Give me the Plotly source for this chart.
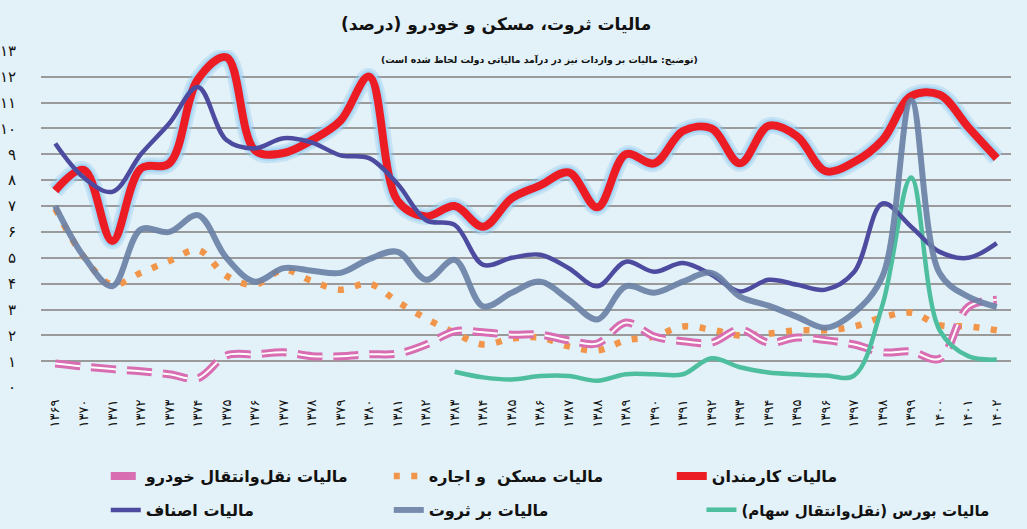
import plotly.graph_objects as go

FA = str.maketrans("0123456789", "۰۱۲۳۴۵۶۷۸۹")
RLM = "\u200f"

def fa(s):
    return RLM + s + RLM

years = list(range(1369, 1403))
year_labels = [str(y).translate(FA) for y in years]
y_ticks = list(range(0, 14))
y_labels = [str(v).translate(FA) for v in y_ticks]

karmandan = [7.6, 8.4, 5.65, 8.45, 8.65, 11.9, 12.75, 9.15, 9.05, 9.55, 10.3, 12.0, 7.2, 6.6,
             7.0, 6.2, 7.3, 7.8, 8.3, 6.95, 9.0, 8.65, 9.9, 10.0, 8.65, 10.1, 9.7, 8.35,
             8.7, 9.55, 11.25, 11.3, 10.05, 8.85]
asnaf = [9.42, 8.1, 7.55, 9.0, 10.2, 11.6, 9.55, 9.23, 9.62, 9.45, 8.96, 8.85, 7.85, 6.45,
         6.27, 4.73, 5.0, 5.12, 4.6, 3.9, 4.85, 4.46, 4.8, 4.35, 3.7, 4.15, 3.96, 3.77,
         4.45, 7.1, 6.2, 5.23, 5.0, 5.57]
servat = [7.0, 5.05, 3.9, 6.1, 6.0, 6.65, 5.0, 4.08, 4.6, 4.5, 4.42, 4.95, 5.23, 4.15,
          4.92, 3.12, 3.65, 4.08, 3.38, 2.62, 3.9, 3.65, 4.08, 4.42, 3.5, 3.15, 2.72, 2.3,
          2.88, 4.3, 11.08, 4.4, 3.5, 3.1]
maskan = [6.9, 5.04, 3.96, 4.42, 4.88, 5.3, 4.3, 3.96, 4.54, 4.1, 3.77, 4.0, 3.3, 2.65,
          2.1, 1.65, 1.88, 1.92, 1.58, 1.42, 1.81, 1.96, 2.35, 2.22, 2.0, 2.07, 2.2, 2.2,
          2.35, 2.7, 2.88, 2.4, 2.35, 2.2]
khodro = [0.92, 0.8, 0.7, 0.62, 0.5, 0.35, 1.23, 1.27, 1.35, 1.2, 1.2, 1.27, 1.3, 1.65,
          2.16, 2.12, 2.03, 2.03, 1.81, 1.69, 2.5, 1.96, 1.78, 1.72, 2.23, 1.72, 1.92, 1.82,
          1.65, 1.35, 1.38, 1.1, 3.1, 3.38]
bourse = [None] * 14 + [0.6, 0.38, 0.3, 0.43, 0.43, 0.25, 0.5, 0.5, 0.5, 1.12, 0.77, 0.57,
                        0.5, 0.45, 0.45, 3.2, 8.1, 2.2, 1.2, 1.07]

names = {
    "khodro": "مالیات نقل\u200cوانتقال خودرو",
    "maskan": "مالیات مسکن  و اجاره",
    "karmandan": "مالیات کارمندان",
    "asnaf": "مالیات اصناف",
    "servat": "مالیات بر ثروت",
    "bourse": "مالیات بورس (نقل\u200cوانتقال سهام)",
}
title_text = "مالیات ثروت، مسکن و خودرو (درصد)"
note_text = "(توضیح: مالیات بر واردات نیز در درآمد مالیاتی دولت لحاظ شده است)"

x = list(range(len(years)))
BG = "#E3F1F8"
FONT = "DejaVu Sans"

fig = go.Figure()

spl = dict(shape="spline", smoothing=1.0)

fig.add_trace(go.Scatter(
    x=x, y=maskan, mode="lines", name=fa(names["maskan"]), legend="legend", legendrank=2,
    line=dict(color="#F0954A", width=6.5, dash="6px,11.5px", **spl)))

fig.add_trace(go.Scatter(
    x=x, y=khodro, mode="lines", name=fa(names["khodro"]), legend="legend", legendrank=1,
    line=dict(color="#D86DB2", width=8, dash="25px,11px", **spl)))
fig.add_trace(go.Scatter(
    x=x, y=khodro, mode="lines", showlegend=False, hoverinfo="skip",
    line=dict(color="#FFFFFF", width=2, dash="25px,11px", **spl)))

fig.add_trace(go.Scatter(
    x=x, y=bourse, mode="lines", name=fa(names["bourse"]), legend="legend3", legendrank=1,
    line=dict(color="#4DBE9E", width=4.5, **spl)))

fig.add_trace(go.Scatter(
    x=x, y=karmandan, mode="lines", showlegend=False, hoverinfo="skip",
    line=dict(color="rgba(140,200,240,0.35)", width=17, **spl)))
fig.add_trace(go.Scatter(
    x=x, y=karmandan, mode="lines", showlegend=False, hoverinfo="skip",
    line=dict(color="rgba(160,212,245,0.85)", width=12, **spl)))
fig.add_trace(go.Scatter(
    x=x, y=karmandan, mode="lines", name=fa(names["karmandan"]), legend="legend", legendrank=3,
    line=dict(color="#EC1C24", width=8, **spl)))

fig.add_trace(go.Scatter(
    x=x, y=asnaf, mode="lines", name=fa(names["asnaf"]), legend="legend2", legendrank=1,
    line=dict(color="#4D4B9F", width=4.5, **spl)))

fig.add_trace(go.Scatter(
    x=x, y=servat, mode="lines", name=fa(names["servat"]), legend="legend2", legendrank=2,
    opacity=0.9,
    line=dict(color="#6A80A6", width=6, **spl)))

legend_common = dict(
    orientation="h", xref="container", yref="container", xanchor="left", yanchor="middle",
    bgcolor="rgba(0,0,0,0)", entrywidthmode="pixels", entrywidth=238,
    traceorder="normal", itemwidth=30,
    font=dict(family=FONT, size=16, color="#111111", weight="bold"),
)
legend_single = dict(legend_common, entrywidth=0,
                     font=dict(family=FONT, size=15, color="#111111", weight="bold"))

PLOT_TOP, PLOT_BOT = 50, 388

def ypaper(py):
    return (PLOT_BOT - py) / (PLOT_BOT - PLOT_TOP)

fig.update_layout(
    width=1027, height=529,
    margin=dict(l=41, r=16, t=50, b=141, autoexpand=False),
    paper_bgcolor=BG, plot_bgcolor="rgba(0,0,0,0)",
    showlegend=True,
    legend=dict(x=0.103, y=1 - 476 / 529, **legend_common),
    legend2=dict(x=0.103, y=1 - 510 / 529, **legend_common),
    legend3=dict(x=0.683, y=1 - 510 / 529, **legend_single),
    xaxis=dict(
        range=[-0.5, len(years) - 0.5], tickmode="array", tickvals=x, ticktext=year_labels,
        tickangle=-90, showgrid=False, zeroline=False, showline=False, ticks="",
        ticklabelstandoff=8, automargin=False,
        tickfont=dict(family=FONT, size=13, color="#111111"),
    ),
    yaxis=dict(
        range=[-0.03, 13.03], tickmode="array", tickvals=y_ticks, ticktext=y_labels,
        showgrid=True, gridcolor="#9A9A9A", gridwidth=1.5, zeroline=False, showline=False,
        ticks="", ticklabelstandoff=24, automargin=False,
        tickfont=dict(family=FONT, size=15, color="#111111"),
    ),
    annotations=[
        dict(text=fa(title_text), xref="paper", yref="paper", x=0.469, y=ypaper(24),
             xanchor="center", yanchor="middle", showarrow=False,
             font=dict(family=FONT, size=17, color="#111111", weight="bold")),
        dict(text=fa(note_text), xref="paper", yref="paper", x=0.514, y=ypaper(60),
             xanchor="center", yanchor="middle", showarrow=False,
             font=dict(family=FONT, size=9.3, color="#111111", weight="bold")),
    ],
)

fig.write_html(
    "out.html",
    config={"displayModeBar": False},
    post_script="document.body.style.margin='0';document.body.style.overflow='hidden';"
                "document.body.style.background='" + BG + "';",
)
